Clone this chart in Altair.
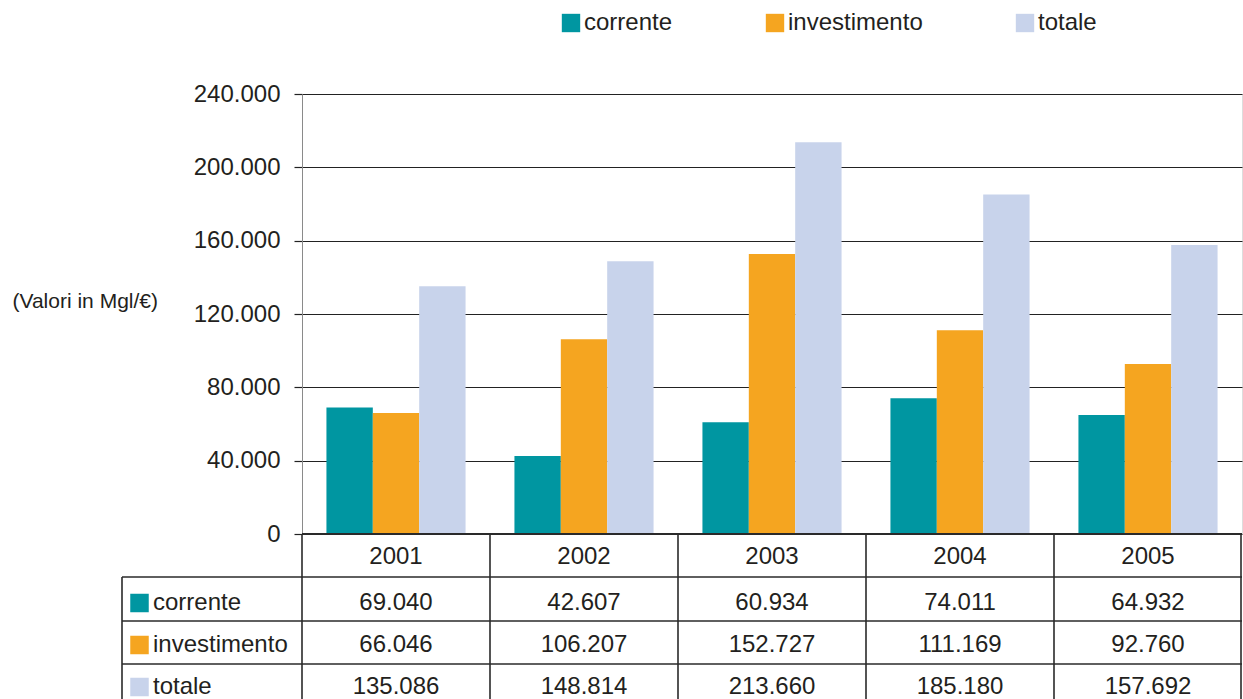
import altair as alt
import pandas as pd

years = ["2001", "2002", "2003", "2004", "2005"]
series = ["corrente", "investimento", "totale"]
corrente = [69040, 42607, 60934, 74011, 64932]
investimento = [66046, 106207, 152727, 111169, 92760]
totale = [135086, 148814, 213660, 185180, 157692]
y_ticks = [0, 40000, 80000, 120000, 160000, 200000, 240000]
colors = ["#0096A1", "#F5A520", "#C8D3EB"]
y_title = "(Valori in Mgl/€)"

rows = []
for s, vals in zip(series, [corrente, investimento, totale]):
    for yr, v in zip(years, vals):
        rows.append({"year": yr, "series": s, "value": v})
df = pd.DataFrame(rows)

FONT = "Liberation Sans"
TXT = "#231F20"
LINE = "#2a2a2a"

# layout (pixels, plot-area relative)
W, H = 940, 440
STEP = W / len(years)
LEFT_BOX = -180
BOTTOM = 640

x_enc = alt.X(
    "year:N",
    sort=years,
    scale=alt.Scale(domain=years, paddingInner=0.26, paddingOuter=0.13),
    axis=alt.Axis(title=None, orient="bottom", domain=False, ticks=False, grid=False,
                  labelAngle=0, labelFontSize=24, labelFont=FONT, labelColor=TXT,
                  labelBaseline="middle", labelPadding=22),
)
color_enc = alt.Color(
    "series:N",
    scale=alt.Scale(domain=series, range=colors),
    legend=alt.Legend(orient="none", legendX=257, legendY=-83, direction="horizontal",
                      title=None, symbolType="square", symbolSize=338, symbolStrokeWidth=0,
                      labelFontSize=24, labelFont=FONT, labelColor=TXT, labelOffset=1,
                      columnPadding=90, padding=0),
)
row_scale = alt.Scale(type="point", domain=series, range=[509, 593], padding=0)

base = alt.Chart(df)

bars = base.mark_bar().encode(
    x=x_enc,
    xOffset=alt.XOffset("series:N", scale=alt.Scale(domain=series, paddingInner=0, paddingOuter=0)),
    y=alt.Y("value:Q",
            scale=alt.Scale(domain=[0, 240000], nice=False),
            axis=alt.Axis(values=y_ticks, grid=True, gridColor="#222222", gridWidth=1.2,
                          domain=True, domainColor="#8a8a8a", domainWidth=1,
                          ticks=True, tickSize=8, tickColor="#222222", tickWidth=1.2,
                          labelFontSize=24, labelFont=FONT, labelColor=TXT, labelPadding=14,
                          labelExpr="replace(format(datum.value, ',d'), ',', '.')",
                          title=y_title, titleAngle=0, titleAlign="left", titleBaseline="middle",
                          titleX=-290, titleY=207, titleFontSize=21, titleFont=FONT,
                          titleFontWeight="normal", titleColor=TXT)),
    color=color_enc,
)

cells = base.mark_text(fontSize=24, font=FONT, color=TXT, baseline="middle").transform_calculate(
    label="replace(format(datum.value, ',d'), ',', '.')"
).encode(
    x=x_enc,
    y=alt.Y("series:N", scale=row_scale, axis=None),
    text="label:N",
)

row_df = pd.DataFrame({"series": series})
row_labels = alt.Chart(row_df).mark_text(fontSize=24, font=FONT, color=TXT, align="left",
                                         baseline="middle").encode(
    x=alt.value(-149),
    y=alt.Y("series:N", scale=row_scale, axis=None),
    text="series:N",
)
swatches = alt.Chart(row_df).mark_square(size=342, opacity=1, strokeWidth=0).encode(
    x=alt.value(-162.5),
    y=alt.Y("series:N", scale=row_scale, axis=None),
    color=color_enc,
)

one = pd.DataFrame({"k": [0]})


def rule(x1, x2, y1, y2, w=1.6):
    return alt.Chart(one).mark_rule(color=LINE, strokeWidth=w).encode(
        x=alt.value(x1), x2=alt.value(x2), y=alt.value(y1), y2=alt.value(y2))


lines = [rule(0, W, H, H, 1.8)]
for yy in [483, 527, 570]:
    lines.append(rule(LEFT_BOX, W, yy, yy))
lines.append(rule(LEFT_BOX, LEFT_BOX, 483, BOTTOM))
for i in range(len(years) + 1):
    xx = min(i * STEP, W - 1)
    lines.append(rule(xx, xx, H, BOTTOM))

chart = alt.layer(bars, cells, swatches, row_labels, *lines).resolve_scale(
    y="independent"
).properties(
    width=W, height=H,
    autosize=alt.AutoSizeParams(type="none"),
    padding={"left": 302, "top": 94, "right": 1, "bottom": 165},
).configure_view(stroke=None).configure(background="white")

chart.save("out.html", embed_options={"renderer": "svg", "actions": False})
